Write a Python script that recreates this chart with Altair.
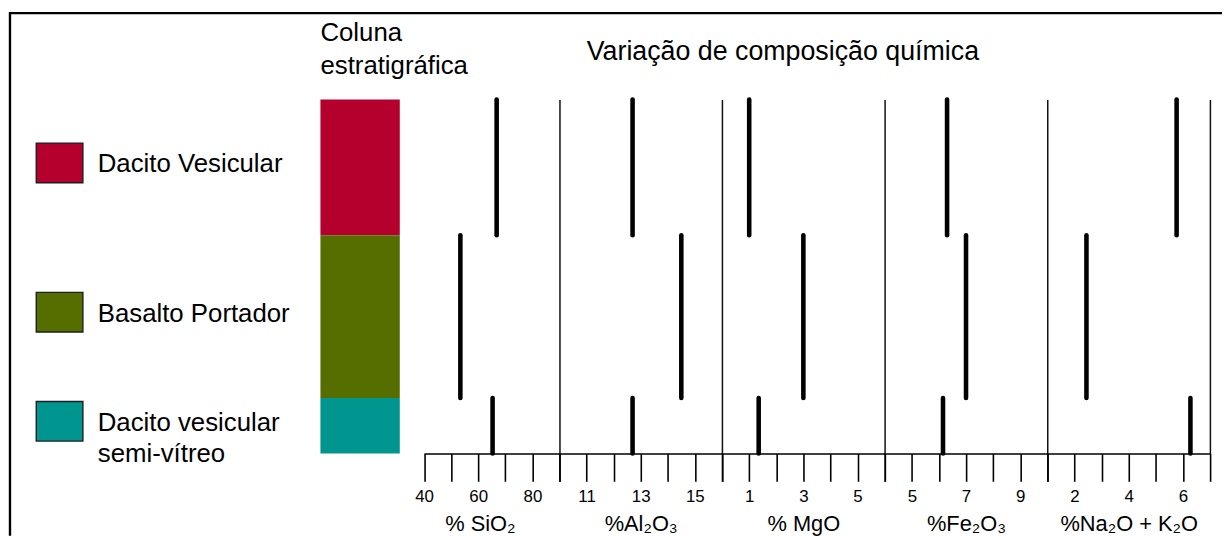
import altair as alt
import pandas as pd

FONT = "Liberation Sans"

# ---- data ----
layers = ["Dacito Vesicular", "Basalto Portador", "Dacito vesicular semi-vítreo"]
legend_labels = ["Dacito Vesicular", "Basalto Portador", "Dacito vesicular\nsemi-vítreo"]
layer_colors = ["#B5002E", "#566E00", "#00968F"]
layer_top = [0, 137, 301]
layer_bottom = [137, 301, 357]

sio2 = [66.8, 53.4, 65.3]
al2o3 = [12.7, 14.5, 12.7]
mgo = [1.0, 3.0, 1.35]
fe2o3 = [6.3, 7.0, 6.15]
alkalis = [5.77, 2.44, 6.28]

panel_titles = ["% SiO₂", "%Al₂O₃", "% MgO", "%Fe₂O₃", "%Na₂O + K₂O"]
panel_domains = [[40, 90], [10, 16], [0, 6], [4, 10], [1, 7]]
panel_steps = [10, 1, 1, 1, 1]
panel_labels = [[40, 60, 80], [11, 13, 15], [1, 3, 5], [5, 7, 9], [2, 4, 6]]
panel_values = [sio2, al2o3, mgo, fe2o3, alkalis]

# ---- layout constants ----
UNIT = 27.3
H = 357
GAP = 24.5  # blank space between the column and the first chemistry panel

layer_df = pd.DataFrame({"layer": layers, "label": legend_labels,
                         "top": layer_top, "bottom": layer_bottom})
y_scale = alt.Scale(domain=[0, layer_bottom[-1]], reverse=True, nice=False, zero=False)
color_scale = alt.Scale(domain=layers, range=layer_colors)

# ---- legend panel (with the figure frame) ----
frame_df = pd.DataFrame({"k": [0]})
frame_top = alt.Chart(frame_df).mark_rule(color="black", strokeWidth=2.4).encode(
    x=alt.value(0), x2=alt.value(1222), y=alt.value(-87))
frame_left = alt.Chart(frame_df).mark_rule(color="black", strokeWidth=2.4).encode(
    x=alt.value(0), y=alt.value(-88.2), y2=alt.value(440))

legend_base = alt.Chart(layer_df).transform_calculate(mid="(datum.top + datum.bottom) / 2")
box_shape = "M-1,-0.851L1,-0.851L1,0.851L-1,0.851Z"
squares = legend_base.mark_point(shape=box_shape, size=47 ** 2, filled=True, opacity=1,
                                 stroke="#1e1e1e", strokeWidth=1.4, yOffset=-4.5).encode(
    x=alt.value(50),
    y=alt.Y("mid:Q", scale=y_scale, axis=None),
    fill=alt.Fill("layer:N", scale=color_scale, legend=None))
texts = legend_base.mark_text(align="left", baseline="alphabetic", dy=5, font=FONT,
                              fontSize=26, lineBreak="\n", lineHeight=32, color="black").encode(
    x=alt.value(88.5),
    y=alt.Y("mid:Q", scale=y_scale, axis=None),
    text="label:N")
legend_panel = alt.layer(frame_top, frame_left, squares, texts).properties(width=313, height=H)

# ---- stratigraphic column ----
column = alt.Chart(layer_df).mark_rect().encode(
    y=alt.Y("top:Q", scale=y_scale, axis=None),
    y2="bottom:Q",
    color=alt.Color("layer:N", scale=color_scale, legend=None)
).properties(width=80, height=H,
             title=alt.TitleParams(["Coluna", "estratigráfica"], anchor="start", frame="group",
                                   font=FONT, fontSize=26, fontWeight="normal", color="black",
                                   lineHeight=33, baseline="alphabetic", offset=0))

# ---- chemistry panels ----
panels = []
for i in range(5):
    d0, d1 = panel_domains[i]
    step = panel_steps[i]
    df = pd.DataFrame({"layer": layers, "top": layer_top, "bottom": layer_bottom,
                       "value": panel_values[i]})
    ticks = list(range(d0, d1 + step, step))
    label_expr = f"indexof({panel_labels[i]}, datum.value) >= 0 ? datum.label : ''"
    span = (d1 - d0) / step * UNIT
    lead = GAP if i == 0 else 0
    axis_kw = dict(values=ticks, labelExpr=label_expr, tickSize=28, tickWidth=1.6,
                   tickColor="black", domainColor="black", domainWidth=1.7,
                   labelFont=FONT, labelFontSize=17, labelColor="black",
                   labelPadding=7, labelFlush=False, labelOverlap=False,
                   grid=False, title=panel_titles[i], titleFont=FONT,
                   titleFontSize=22, titleFontWeight="normal", titleColor="black",
                   titlePadding=10)
    if i == 0:
        axis_kw["titleX"] = lead + span / 2 - 12
    p = alt.Chart(df).mark_rule(strokeWidth=4.6, strokeCap="round", color="black").encode(
        x=alt.X("value:Q",
                scale=alt.Scale(domain=[d0, d1], range=[lead, lead + span], nice=False, zero=False),
                axis=alt.Axis(**axis_kw)),
        y=alt.Y("top:Q", scale=y_scale, title=None,
                axis=alt.Axis(orient="right", ticks=False, labels=False, grid=False,
                              domainColor="#111111", domainWidth=1.5)),
        y2="bottom:Q"
    )
    props = dict(width=lead + span, height=H)
    if i == 0:
        props["title"] = alt.TitleParams("Variação de composição química", anchor="start",
                                         frame="group", dx=188.5, font=FONT, fontSize=27,
                                         fontWeight="normal", color="black",
                                         baseline="alphabetic", offset=10)
    panels.append(p.properties(**props))

chart = alt.hconcat(legend_panel, column, *panels, spacing=0, bounds="flush").properties(
    padding={"left": 0, "top": 0, "right": 0, "bottom": 0}
).configure(font=FONT).configure_view(stroke=None)

chart.save("out.html", embed_options={"renderer": "svg", "actions": False})
